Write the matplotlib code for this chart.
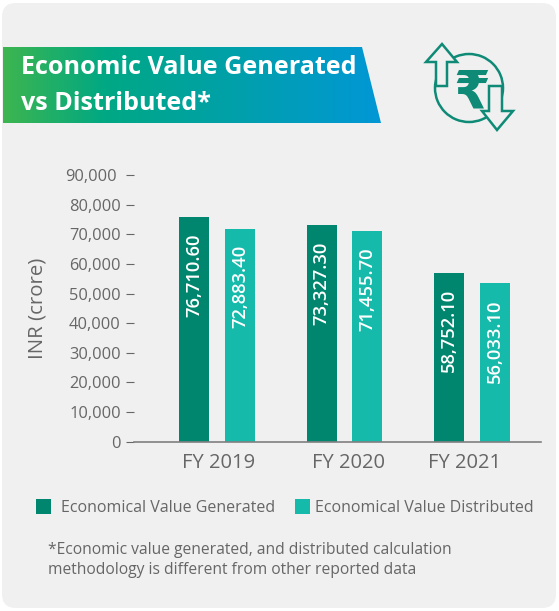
import numpy as np
from matplotlib import pyplot as plt
from matplotlib.patches import FancyBboxPatch, Polygon, Rectangle, Arc
from matplotlib.transforms import Affine2D

plt.rcParams['font.family'] = ['Open Sans', 'DejaVu Sans']

W, H = 559, 611

years = ["FY 2019", "FY 2020", "FY 2021"]
generated = [75800, 73000, 56900]
distributed = [71700, 71000, 53500]
generated_labels = ["76,710.60", "73,327.30", "58,752.10"]
distributed_labels = ["72,883.40", "71,455.70", "56,033.10"]
y_ticks = [0, 10000, 20000, 30000, 40000, 50000, 60000, 70000, 80000, 90000]

DARK = "#00866f"
TEAL = "#15baaa"
GREY = "#666666"
ICON = "#0e8a76"
CARD = "#f0f0f0"

fig = plt.figure(figsize=(W / 100, H / 100), dpi=100, facecolor="white")

# overlay in pixel coordinates for the card, banner and icon
bg = fig.add_axes([0, 0, 1, 1])
bg.axis("off")

bg.add_patch(FancyBboxPatch((2, 3), 554, 605, boxstyle="round,pad=0,rounding_size=14",
                            mutation_scale=1, fc=CARD, ec="none"))

# banner
stops = np.array([[0x3d, 0xb5, 0x4f], [0x00, 0xa8, 0x84], [0x00, 0x97, 0xd6]]) / 255
pos = np.linspace(0, 1, 256)
grad = np.stack([np.interp(pos, [0, 0.27, 1], stops[:, i]) for i in range(3)], axis=-1)[None, :, :]
im = bg.imshow(grad, extent=(2.5, 381, 123, 47), aspect="auto", zorder=2)
bg.set_xlim(0, W)
bg.set_ylim(H, 0)
im.set_clip_path(Polygon([(2.5, 47), (362, 47), (381, 123), (2.5, 123)], transform=bg.transData))
bg.text(21, 68, "Economic Value Generated", color="white", fontsize=18.05, fontweight="bold",
        va="center", ha="left", zorder=3)
bg.text(21, 103, "vs Distributed*", color="white", fontsize=18.05, fontweight="bold",
        va="center", ha="left", zorder=3)

# icon
bg.add_patch(Arc((469, 88), 68, 68, theta1=0, theta2=360, ec=ICON, lw=1.8, zorder=2))
bg.add_patch(Polygon([(442, 44), (457, 62), (447, 62), (447, 86), (436, 86), (436, 62), (426, 62)],
                     closed=True, fc=CARD, ec=ICON, lw=1.8, zorder=3))
bg.add_patch(Polygon([(497, 130), (513, 111), (502, 111), (502, 86), (489, 86), (489, 111), (482, 111)],
                     closed=True, fc=CARD, ec=ICON, lw=1.8, zorder=3))
bg.text(471.5, 94, "\u20b9", color=ICON, fontsize=38, fontweight="bold", ha="center", va="center",
        family="DejaVu Sans", zorder=2.5)

# chart
ax_l, ax_r, ax_t, ax_b = 134, 541, 175, 441.7
ax = fig.add_axes([ax_l / W, 1 - ax_b / H, (ax_r - ax_l) / W, (ax_b - ax_t) / H])
ax.patch.set_alpha(0)
x = np.arange(len(years))
ax.bar(x - 0.18, generated, 0.235, color=DARK)
ax.bar(x + 0.18, distributed, 0.235, color=TEAL)
ax.set_xlim(-0.651, 2.541)
ax.set_ylim(0, 90000)
for i in x:
    ax.text(i - 0.18, generated[i] - 5400, generated_labels[i], rotation=90, ha="center", va="top",
            color="white", fontsize=13.2, fontweight="semibold")
    ax.text(i + 0.18, distributed[i] - 5400, distributed_labels[i], rotation=90, ha="center", va="top",
            color="white", fontsize=13.2, fontweight="semibold")

for s in ["top", "right", "left"]:
    ax.spines[s].set_visible(False)
ax.spines["bottom"].set_color("#808080")
ax.spines["bottom"].set_linewidth(1.2)
ax.set_xticks(x, years)
ax.set_yticks(y_ticks, [f"{v:,}" for v in y_ticks])
ax.tick_params(axis="x", length=0, pad=8, labelsize=14.5, labelcolor=GREY)
ax.tick_params(axis="y", length=6, width=0.8, color=GREY, pad=3.5, labelsize=11.8, labelcolor=GREY)
ax.yaxis.get_major_ticks()[-1].set_pad(6.5)
ax.set_ylabel("INR (crore)", fontsize=14.7, color=GREY)
ax.yaxis.set_label_coords((47 - ax_l) / (ax_r - ax_l), 0.5)

# the year labels sit a little off their groups in the original
for lab, dx in zip(ax.get_xticklabels(), [1.5, 3.5, -7]):
    lab.set_transform(lab.get_transform() + Affine2D().translate(dx, 0))

# legend and note
bg.add_patch(Rectangle((36, 499), 15, 15, fc=DARK, ec="none"))
bg.add_patch(Rectangle((295, 499), 15, 15, fc=TEAL, ec="none"))
bg.text(61, 508, "Economical Value Generated", color=GREY, fontsize=11.5, va="center")
bg.text(315, 508, "Economical Value Distributed", color=GREY, fontsize=11.5, va="center")
bg.text(48, 550, "*Economic value generated, and distributed calculation", color=GREY, fontsize=11.25, va="center")
bg.text(48, 570, "methodology is different from other reported data", color=GREY, fontsize=11.25, va="center")

fig.savefig("out.png", dpi=100)
